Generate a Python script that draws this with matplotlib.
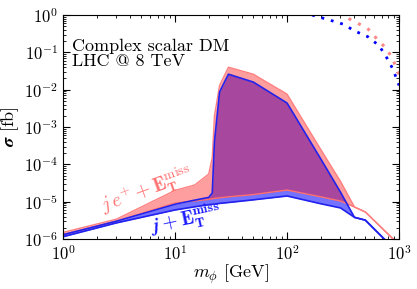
import matplotlib
matplotlib.use('Agg')
import matplotlib.pyplot as plt
import numpy as np

plt.rcParams['mathtext.fontset'] = 'cm'
plt.rcParams['font.family'] = ['cmr10', 'DejaVu Serif']
plt.rcParams['axes.formatter.use_mathtext'] = True

# dark matter mass grid [GeV]
mass = [1, 3, 10, 15, 20, 21.5, 22.5, 25, 30, 50, 100, 200, 300, 400, 500, 1000]

# j + ET miss band (blue)
jet_lo = [1.15e-6, 2.7e-6, 6.0e-6, 7.3e-6, 8.3e-6, 8.5e-6, 8.6e-6, 9.0e-6, 9.5e-6,
          1.12e-5, 1.42e-5, 8.8e-6, 6.8e-6, 3.8e-6, 3.2e-6, 4e-7]
jet_hi = [1.3e-6, 3.0e-6, 8.5e-6, 1.1e-5, 1.3e-5, 1.7e-5, 4e-4, 8.7e-3, 2.6e-2,
          1.6e-2, 4.4e-3, 1.4e-4, 1.8e-5, 3.8e-6, 3.2e-6, 4e-7]

# j e+ + ET miss band (red)
lep_lo = [1.3e-6, 3.0e-6, 9.2e-6, 1.05e-5, 1.15e-5, 1.2e-5, 1.22e-5, 1.27e-5, 1.35e-5,
          1.55e-5, 2.05e-5, 1.35e-5, 1.04e-5, 7.2e-6, 5.3e-6, 7e-7]
lep_hi = [1.5e-6, 3.4e-6, 2.0e-5, 2.8e-5, 5.5e-5, 1.5e-4, 2e-3, 1.3e-2, 4.0e-2,
          2.6e-2, 7.6e-3, 2.5e-4, 3.5e-5, 7.2e-6, 5.3e-6, 7e-7]

# dotted curves
mass_dot_b = [1, 2, 3, 10, 100, 167, 241, 316, 405, 529, 665, 780, 880, 1000]
sig_dot_b = [5, 0.97, 5, 50, 2.0, 1.0, 0.73, 0.57, 0.37, 0.26, 0.15, 0.07, 0.036, 0.013]
mass_dot_r = [1, 2.2, 3, 10, 200, 310, 389, 519, 651, 765, 880, 1000]
sig_dot_r = [5, 0.98, 5, 50, 1.6, 1.0, 0.69, 0.45, 0.21, 0.13, 0.066, 0.025]

fig = plt.figure(figsize=(4.17, 2.89), dpi=100)
ax = fig.add_axes([0.151, 0.173, 0.806, 0.775])

ax.fill_between(mass, jet_lo, jet_hi, color='#0000ff', alpha=0.55, lw=0)
ax.fill_between(mass, lep_lo, lep_hi, color='#ff0000', alpha=0.38, lw=0)
ax.plot(mass, lep_lo, color='#ff7070', lw=1)
ax.plot(mass, lep_hi, color='#ff8080', lw=1)
ax.plot(mass, jet_lo, color='#2222ee', lw=1.2)
ax.plot(mass, jet_hi, color='#2222ee', lw=1.2)

ax.plot(mass_dot_r, sig_dot_r, color='#ff8888', lw=2.2, ls=(0, (1, 2.5)))
ax.plot(mass_dot_b, sig_dot_b, color='#0000ff', lw=2, ls=(0, (1, 2.5)))

ax.set_xscale('log')
ax.set_yscale('log')
ax.set_xlim(1, 1000)
ax.set_ylim(1e-6, 1)

ax.tick_params(which='both', direction='in', top=True, right=True, labelsize=12)
ax.tick_params(which='major', length=5)
ax.tick_params(which='minor', length=2.5)
ax.yaxis.set_major_locator(matplotlib.ticker.LogLocator(base=10, numticks=10))
ax.yaxis.set_minor_locator(matplotlib.ticker.LogLocator(base=10, subs=np.arange(2, 10), numticks=20))

ax.set_xlabel(r'$\boldsymbol{m_\phi}$ [GeV]', fontsize=13, labelpad=0)
ax.set_ylabel(r'$\boldsymbol{\sigma}$ [fb]', fontsize=13, labelpad=2)

ax.text(0.028, 0.895, 'Complex scalar DM\nLHC @ 8 TeV', transform=ax.transAxes,
        fontsize=13, va='top', ha='left', linespacing=0.95)

ax.text(5.6, 2.0e-5, r'$j\,e^{+} + \mathbf{E}_{\mathbf{T}}^{\mathrm{miss}}$', color='#ff7070',
        fontsize=14, rotation=20, ha='center', va='center')
ax.text(12.5, 3.2e-6, r'$\boldsymbol{j} + \mathbf{E}_{\mathbf{T}}^{\mathbf{miss}}$', color='#1a1aff',
        fontsize=14, rotation=12, ha='center', va='center')

fig.savefig('out.png', dpi=100)
